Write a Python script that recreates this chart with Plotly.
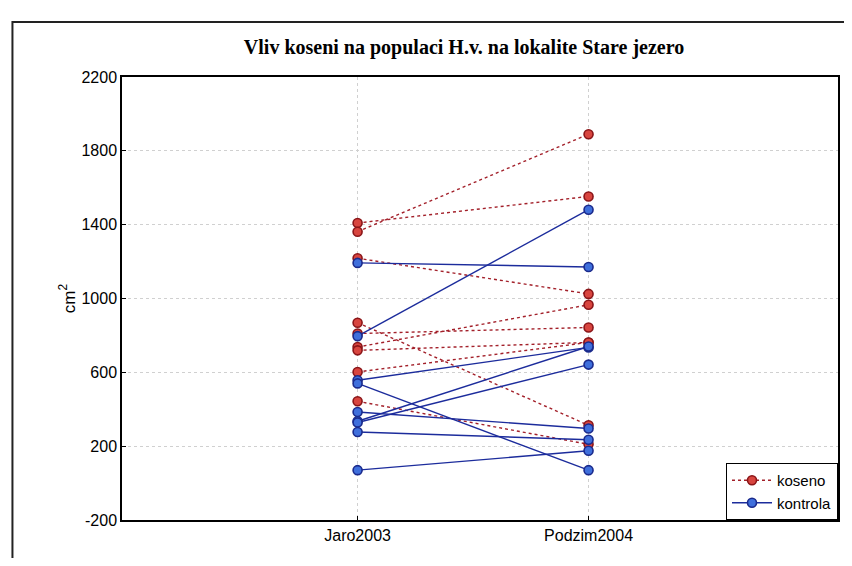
import plotly.graph_objects as go

categories = ["Jaro2003", "Podzim2004"]

koseno_jaro = [1409, 1362, 1218, 869, 810, 737, 719, 602, 443]
koseno_podzim = [1553, 1890, 1025, 313, 843, 966, 762, 762, 210]

kontrola_jaro = [1193, 796, 557, 540, 385, 335, 328, 277, 70]
kontrola_podzim = [1171, 1481, 735, 70, 296, 740, 642, 235, 175]

y_ticks = [-200, 200, 600, 1000, 1400, 1800, 2200]
y_tick_labels = [str(v) for v in y_ticks]


def pairs(a, b):
    xs, ys = [], []
    for v1, v2 in zip(a, b):
        xs += [categories[0], categories[1], None]
        ys += [v1, v2, None]
    return xs, ys


fig = go.Figure()

xr, yr = pairs(koseno_jaro, koseno_podzim)
fig.add_trace(go.Scatter(
    x=xr, y=yr, mode="lines+markers", name="koseno",
    line=dict(color="#a3202a", width=1.4, dash="dot"),
    marker=dict(size=9, color="#d8453f", line=dict(color="#8a1518", width=1.6)),
    connectgaps=False,
))

xb, yb = pairs(kontrola_jaro, kontrola_podzim)
fig.add_trace(go.Scatter(
    x=xb, y=yb, mode="lines+markers", name="kontrola",
    line=dict(color="#1c2c9c", width=1.4),
    marker=dict(size=9, color="#3f6fdc", line=dict(color="#1a2a8c", width=1.6)),
    connectgaps=False,
))

# outer frame around the whole chart
fig.add_shape(type="rect", xref="paper", yref="paper",
              x0=-0.153, x1=1.2, y0=-0.3, y1=1.124,
              line=dict(color="#222", width=2), fillcolor="rgba(0,0,0,0)", layer="below")

fig.update_layout(
    width=836, height=550,
    margin=dict(l=114, r=4, t=69, b=38),
    paper_bgcolor="white", plot_bgcolor="white",
    title=dict(text="<b>Vliv koseni na populaci H.v. na lokalite Stare jezero</b>",
               x=0.5455, xanchor="center", y=0.929, yanchor="middle",
               font=dict(family="Liberation Serif, Times New Roman, serif", size=20, color="black")),
    font=dict(family="Liberation Sans, Arial, sans-serif", size=15, color="black"),
    showlegend=True,
    legend=dict(x=1, xanchor="right", y=0, yanchor="bottom",
                bgcolor="white", bordercolor="black", borderwidth=1,
                font=dict(size=15), tracegroupgap=0,
                itemwidth=40),
)

fig.update_xaxes(
    type="category", categoryorder="array", categoryarray=categories,
    range=[-1.02, 2.08], showline=True, linecolor="black", linewidth=1.5, mirror=True,
    showgrid=True, gridcolor="#d0d0d0", griddash="dot", gridwidth=1,
    ticks="inside", ticklen=4, tickcolor="black",
    tickfont=dict(size=16), zeroline=False,
)
fig.update_yaxes(
    range=[-200, 2200], tickvals=y_ticks, ticktext=y_tick_labels,
    showline=True, linecolor="black", linewidth=1.5, mirror=True,
    showgrid=True, gridcolor="#d0d0d0", griddash="dot", gridwidth=1,
    ticks="inside", ticklen=4, tickcolor="black",
    tickfont=dict(size=16), zeroline=False,
    title=dict(text="cm<sup>2</sup>", font=dict(size=17), standoff=2),
)

fig.write_html("out.html")
